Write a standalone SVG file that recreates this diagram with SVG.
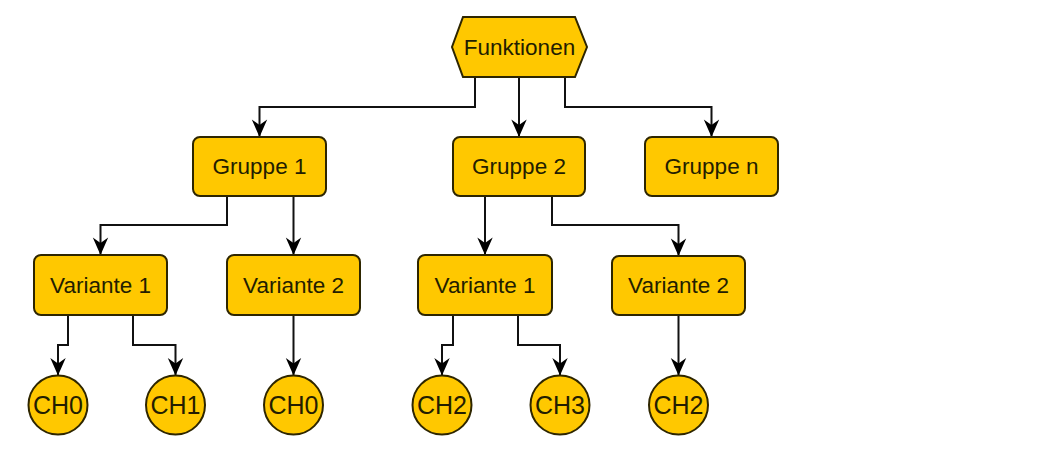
<svg xmlns="http://www.w3.org/2000/svg" width="1056" height="451" viewBox="0 0 1056 451">
<style>
.n{fill:#FFC800;stroke:#2e2600;stroke-width:2}
.t{font-family:"Liberation Sans",Arial,sans-serif;font-size:22.5px;fill:#231d00;text-anchor:middle;dominant-baseline:central}
.s{font-size:25px}
.c{fill:none;stroke:#111;stroke-width:2}
</style>
<defs>
<marker id="a" markerUnits="userSpaceOnUse" markerWidth="22" markerHeight="22" viewBox="-18 -9 20 18" refX="0" refY="0" orient="auto">
<path d="M-16,-7 L0,0 L-16,7 L-11,0 Z" fill="#000"/>
</marker>
</defs>
<rect width="1056" height="451" fill="#fff"/>
<g id="connectors" class="c" marker-end="url(#a)">
<path d="M475,77 V107 H259.5 V137"/>
<path d="M519,77 V137"/>
<path d="M565,77 V107 H711.5 V137"/>
<path d="M227,196 V225 H100.5 V255"/>
<path d="M293.5,196 V255"/>
<path d="M485,196 V255"/>
<path d="M552,196 V225 H678.5 V256"/>
<path d="M68,315 V345 H58 V375.5"/>
<path d="M133,315 V345 H175.5 V375.5"/>
<path d="M293.5,315 V375.5"/>
<path d="M453,315 V345 H442 V375.5"/>
<path d="M518,315 V345 H560 V375.5"/>
<path d="M678.5,315 V375.5"/>
</g>
<g id="funktionen"><polygon class="n" points="463,17 575,17 587,47 575,77 463,77 452,47"/><text class="t" x="519.5" y="47">Funktionen</text></g>
<g id="gruppe1"><rect class="n" x="193" y="137" width="133" height="59" rx="7"/><text class="t" x="259.5" y="166.5">Gruppe 1</text></g>
<g id="gruppe2"><rect class="n" x="453" y="137" width="132" height="59" rx="7"/><text class="t" x="519" y="166.5">Gruppe 2</text></g>
<g id="gruppen"><rect class="n" x="645" y="137" width="133" height="59" rx="7"/><text class="t" x="711.5" y="166.5">Gruppe n</text></g>
<g id="g1v1"><rect class="n" x="34" y="255" width="133" height="60" rx="7"/><text class="t" x="100.5" y="285">Variante 1</text></g>
<g id="g1v2"><rect class="n" x="227" y="255" width="133" height="60" rx="7"/><text class="t" x="293.5" y="285">Variante 2</text></g>
<g id="g2v1"><rect class="n" x="418" y="255" width="134" height="60" rx="7"/><text class="t" x="485" y="285">Variante 1</text></g>
<g id="g2v2"><rect class="n" x="612" y="256" width="133" height="59" rx="7"/><text class="t" x="678.5" y="285.5">Variante 2</text></g>
<g id="ch0a"><circle class="n" cx="58" cy="405" r="29.5"/><text class="t s" x="58" y="405">CH0</text></g>
<g id="ch1"><circle class="n" cx="175.5" cy="405" r="29.5"/><text class="t s" x="175.5" y="405">CH1</text></g>
<g id="ch0b"><circle class="n" cx="293.5" cy="405" r="29.5"/><text class="t s" x="293.5" y="405">CH0</text></g>
<g id="ch2a"><circle class="n" cx="442" cy="405" r="29.5"/><text class="t s" x="442" y="405">CH2</text></g>
<g id="ch3"><circle class="n" cx="560" cy="405" r="29.5"/><text class="t s" x="560" y="405">CH3</text></g>
<g id="ch2b"><circle class="n" cx="678.5" cy="405" r="29.5"/><text class="t s" x="678.5" y="405">CH2</text></g>
</svg>
